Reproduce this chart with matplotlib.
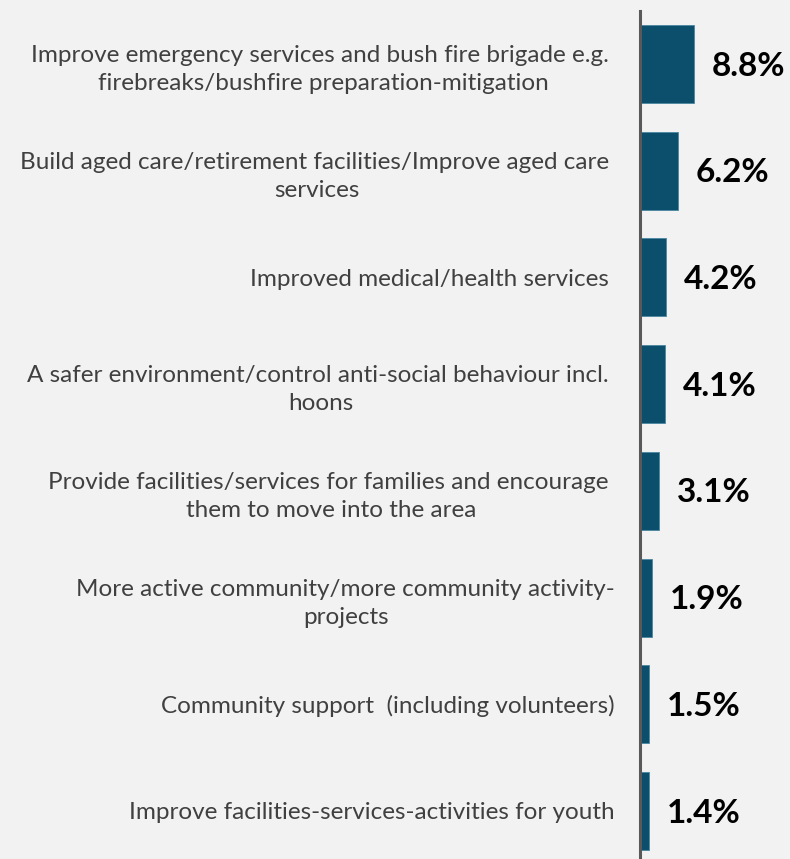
import matplotlib.pyplot as plt

labels = [
    "Improve emergency services and bush fire brigade e.g. \nfirebreaks/bushfire preparation-mitigation",
    "Build aged care/retirement facilities/Improve aged care \nservices",
    "Improved medical/health services ",
    "A safer environment/control anti-social behaviour incl. \nhoons",
    "Provide facilities/services for families and encourage \nthem to move into the area",
    "More active community/more community activity-\nprojects",
    "Community support  (including volunteers)",
    "Improve facilities-services-activities for youth",
]
values = [8.8, 6.2, 4.2, 4.1, 3.1, 1.9, 1.5, 1.4]

bg = "#f2f2f2"
bar_color = "#0b4f6c"

fig = plt.figure(figsize=(7.9, 8.59), dpi=100, facecolor=bg)
ax = fig.add_axes([640 / 790, 0, 150 / 790, 848 / 859])
ax.set_facecolor(bg)

pos = list(range(len(values)))
ax.barh(pos, values, height=0.73, color=bar_color, edgecolor="#4a86a0", linewidth=0.6)

ax.set_xlim(0, 150 / 6.14)
ax.set_ylim(7.45, -0.497)

for y, v in zip(pos, values):
    ax.text(v + 2.9, y + 0.02, f"{v:.1f}%", va="center", ha="left",
            fontsize=24, fontweight="bold", family="Lato", color="#000000")

ax.set_yticks(pos)
ax.set_yticklabels(labels, fontsize=17.5, family="Lato", color="#404040")
for t in ax.get_yticklabels():
    t.set_multialignment("center")
    t.set_linespacing(1.42)
ax.tick_params(axis="y", length=0, pad=18)
ax.set_xticks([])

for s in ["top", "right", "bottom"]:
    ax.spines[s].set_visible(False)
ax.spines["left"].set_color("#595959")
ax.spines["left"].set_linewidth(2.2)

fig.savefig("out.png", dpi=100, facecolor=bg)
